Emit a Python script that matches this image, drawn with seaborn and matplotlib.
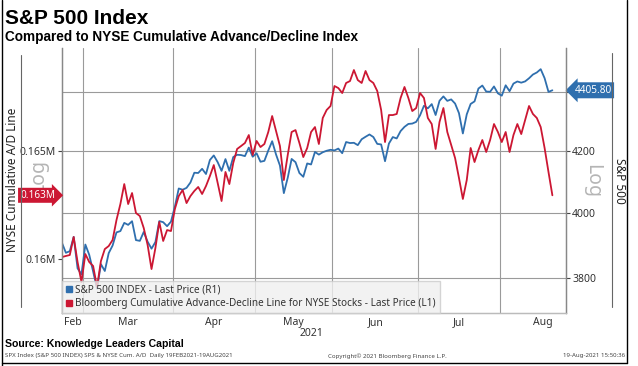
import numpy as np
import pandas as pd
import matplotlib
matplotlib.use("Agg")
import matplotlib.pyplot as plt
import seaborn as sns
from matplotlib.ticker import FixedLocator, NullLocator, FixedFormatter
from matplotlib.lines import Line2D

# ---------------- data ----------------
holidays = ["2021-04-02", "2021-05-31", "2021-07-05"]
dates = pd.bdate_range("2021-02-19", "2021-08-19")
dates = dates[~dates.isin(pd.to_datetime(holidays))]

sp500 = [3906.71, 3876.50, 3881.37, 3925.43, 3829.34, 3811.15,
         3901.82, 3870.29, 3819.72, 3768.47, 3841.94, 3821.35, 3875.44, 3898.81, 3939.34, 3943.34,
         3968.94, 3962.71, 3974.12, 3915.46, 3913.10, 3940.59, 3910.52, 3889.14, 3909.52, 3974.54,
         3971.09, 3958.55, 3972.89,
         4019.87, 4077.91, 4073.94, 4079.95, 4097.17, 4128.80, 4127.99, 4141.59, 4124.66, 4170.42,
         4185.47, 4163.26, 4134.94, 4173.42, 4134.98, 4180.17, 4187.62, 4186.72, 4183.18, 4211.47,
         4181.17,
         4192.66, 4164.66, 4167.59, 4201.62, 4232.60, 4188.43, 4152.10, 4063.04, 4112.50, 4173.85,
         4163.29, 4127.83, 4115.68, 4159.12, 4155.86, 4197.05, 4188.13, 4195.99, 4200.88, 4204.11,
         4202.04, 4208.12, 4192.85, 4229.89, 4226.52, 4227.26, 4219.55, 4239.18, 4247.44, 4255.15,
         4246.59, 4223.70, 4221.86, 4166.45, 4224.79, 4246.44, 4241.84, 4266.49, 4280.70, 4290.61,
         4291.80, 4297.50,
         4319.94, 4352.34, 4343.54, 4358.13, 4320.82, 4369.55, 4384.63, 4369.21, 4374.30, 4360.03,
         4327.16, 4258.49, 4323.06, 4358.69, 4367.48, 4411.79, 4422.30, 4401.46, 4400.64, 4419.15,
         4395.26,
         4387.16, 4423.15, 4402.66, 4429.10, 4436.52, 4432.35, 4436.75, 4447.70, 4460.83, 4468.00,
         4479.71, 4448.08, 4400.27, 4405.80]

nyse_ad = [160090, 160140, 160185, 161020, 159860, 158935, 160230, 159860, 159675, 158705,
           159905, 160460, 160600, 160880, 161805, 162545, 163470, 162545, 163055, 162130,
           161990, 161435, 160650, 159535, 160510, 161715, 160835, 161340, 161295, 162315,
           162915, 163195, 162590, 162915, 163150, 163335, 163010, 163380, 163840, 164350,
           163520, 162685, 164030, 163470, 164445, 165095, 165230, 165370, 165740, 164815,
           165465, 165185, 165325, 165880, 166620, 165925, 165230, 163655, 164815, 165880,
           165970, 165370, 164720, 165140, 165880, 166110, 165325, 166530, 166900, 167085,
           168010, 167915, 167685, 168150, 168240, 168750, 168285, 168150, 168705, 168285,
           168150, 167780, 166900, 165415, 166665, 166665, 166715, 167455, 167965, 167455,
           166850, 166990, 167685, 167455, 166530, 166250, 165095, 166345, 166990, 165880,
           165280, 164675, 163750, 162780, 163655, 165140, 164490, 165045, 165510, 164955,
           165510, 166250, 165880, 165415, 165880, 164955, 165740, 166250, 165785, 166435,
           167085, 166715, 166530, 166110, 165140, 164030, 162950]

month_names = ["Feb", "Mar", "Apr", "May", "Jun", "Jul", "Aug"]
sp_ticks = [3800, 4000, 4200, 4400]
sp_ticklabels = ["3800", "4000", "4200", ""]
ad_ticks = [160000, 165000]
ad_ticklabels = ["0.16M", "0.165M"]
sp_label = "S&P 500 INDEX - Last Price (R1)"
ad_label = "Bloomberg Cumulative Advance-Decline Line for NYSE Stocks - Last Price (L1)"

df = pd.DataFrame({"idx": np.arange(len(dates)), "date": dates,
                   "sp": sp500, "ad": nyse_ad})

# month boundaries / centers in trading-day index
full = pd.bdate_range("2021-02-01", "2021-08-31")
full = full[~full.isin(pd.to_datetime(holidays + ["2021-02-15"]))]
offset = int(np.where(full == dates[0])[0][0])
fidx = np.arange(len(full)) - offset
fm = full.month.values
bounds = [fidx[i] - 0.5 for i in range(1, len(full)) if fm[i] != fm[i - 1]]
XMIN, XMAX = 0, 129.5
starts = [XMIN] + bounds
ends = bounds + [fidx[-1] + 0.5]
centers = [(s + e) / 2 for s, e in zip(starts, ends)]

# ---------------- style ----------------
BLUE = "#2f6fae"
RED = "#cc1733"
GRID = "#9a9a9a"
TXT = "#333333"
BOLDFONT = ["Liberation Sans", "DejaVu Sans"]
sns.set_style("white")
plt.rcParams["font.family"] = ["Noto Sans", "DejaVu Sans"]

fig = plt.figure(figsize=(6.38, 3.66), dpi=100)
W, H = 638, 366
ax = fig.add_axes([62 / W, 1 - 313 / H, 504 / W, 265 / H])
ax2 = ax.twinx()

sns.lineplot(data=df, x="idx", y="sp", ax=ax, color=BLUE, linewidth=1.3)
sns.lineplot(data=df, x="idx", y="ad", ax=ax2, color=RED, linewidth=1.3)

ax.set_xlim(XMIN, XMAX)
ax.set_yscale("log")
ax.set_ylim(3697, 4555)
ax2.set_ylim(157500, 169770)
for a in (ax, ax2):
    a.set_xlabel("")
    a.set_ylabel("")

# right axis (S&P)
ax.yaxis.set_ticks_position("right")
ax.yaxis.set_major_locator(FixedLocator(sp_ticks))
ax.yaxis.set_major_formatter(FixedFormatter(sp_ticklabels))
ax.yaxis.set_minor_locator(NullLocator())
ax.tick_params(axis="y", which="major", direction="out", length=3, width=0.8,
               color="#444444", labelsize=7.5, labelcolor=TXT, pad=1.5)
# left axis (A/D)
ax2.yaxis.set_ticks_position("left")
ax2.yaxis.set_major_locator(FixedLocator(ad_ticks))
ax2.yaxis.set_major_formatter(FixedFormatter(ad_ticklabels))
ax2.yaxis.set_minor_locator(NullLocator())
ax2.tick_params(axis="y", which="major", direction="out", length=3, width=0.8,
                color="#444444", labelsize=7.5, labelcolor=TXT, pad=1.5)

# x axis
ax.set_xticks(bounds)
ax.set_xticklabels([""] * len(bounds))
ax.set_xticks(centers, minor=True)
ax.set_xticklabels(month_names, minor=True)
ax.tick_params(axis="x", which="both", length=0, labelsize=7.5, labelcolor=TXT, pad=3)

ax.grid(True, which="major", axis="both", color=GRID, linewidth=0.8)
ax.set_axisbelow(True)

for a in (ax, ax2):
    a.spines["top"].set_visible(False)
    a.spines["left"].set_color("#888888")
    a.spines["right"].set_color("#888888")
    a.spines["bottom"].set_color("#bbbbbb")
    for s in a.spines.values():
        s.set_linewidth(0.9)

# value tags
ax.annotate(f"{sp500[-1]:.2f}", xy=(1.0, sp500[-1]), xycoords=("axes fraction", "data"),
            xytext=(6, 0), textcoords="offset points", ha="left", va="center",
            color="white", fontsize=7.2,
            bbox=dict(boxstyle="larrow,pad=0.25", fc=BLUE, ec="none"))
ax2.annotate(f"{nyse_ad[-1] / 1e6:.3f}M", xy=(0.0, nyse_ad[-1]), xycoords=("axes fraction", "data"),
             xytext=(-5, 0), textcoords="offset points", ha="right", va="center",
             color="white", fontsize=7.2,
             bbox=dict(boxstyle="rarrow,pad=0.2", fc=RED, ec="none"))

# legend
handles = [Line2D([], [], marker="s", ls="none", color=BLUE, markersize=4.5),
           Line2D([], [], marker="s", ls="none", color=RED, markersize=4.5)]
leg = ax2.legend(handles, [sp_label, ad_label], loc="lower left", bbox_to_anchor=(0, 0),
                 fontsize=7.2, frameon=True, fancybox=False, facecolor="#efefef",
                 edgecolor="#cccccc", framealpha=0.8, borderaxespad=0, handlelength=0.7,
                 handletextpad=0.2, labelspacing=0.25, borderpad=0.4)
for t in leg.get_texts():
    t.set_color(TXT)
leg.set_zorder(10)

# axis titles & decorations
fig.text(13 / W, 1 - 180 / H, "NYSE Cumulative A/D Line", rotation=90, ha="center",
         va="center", fontsize=8.5, color="#222222")
fig.text(38 / W, 1 - 176 / H, "Log", rotation=90, ha="center", va="center",
         fontsize=14, color="#b5b5b5", zorder=-1)
fig.text(592 / W, 1 - 181 / H, "Log", rotation=270, ha="center", va="center",
         fontsize=14, color="#b5b5b5", zorder=-1)
fig.text(619 / W, 1 - 181 / H, "S&P 500", rotation=270, ha="center", va="center",
         fontsize=8.5, color="#222222")
fig.add_artist(Line2D([21 / W, 21 / W], [1 - 55 / H, 1 - 307 / H], color="#666666", lw=0.8))
fig.add_artist(Line2D([612 / W, 612 / W], [1 - 53 / H, 1 - 307 / H], color="#666666", lw=0.8))

fig.text(312 / W, 1 - 334 / H, "2021", ha="center", va="center", fontsize=7.5, color=TXT)

fig.text(5 / W, 1 - 18 / H, "S&P 500 Index", ha="left", va="center", fontsize=15,
         fontweight="bold", color="black", family=BOLDFONT)
fig.text(5 / W, 1 - 37 / H, "Compared to NYSE Cumulative Advance/Decline Index", ha="left",
         va="center", fontsize=9.8, fontweight="bold", color="black", family=BOLDFONT)
fig.text(5 / W, 1 - 344 / H, "Source: Knowledge Leaders Capital", ha="left", va="center",
         fontsize=7.6, fontweight="bold", color="black", family=BOLDFONT)
fig.text(5 / W, 1 - 356 / H, "SPX Index (S&P 500 INDEX) SPS & NYSE Cum. A/D  Daily 19FEB2021-19AUG2021",
         ha="left", va="center", fontsize=4.4, color="#444444")
fig.text(387 / W, 1 - 356 / H, "Copyright\u00a9 2021 Bloomberg Finance L.P.", ha="center",
         va="center", fontsize=4.4, color="#444444")
fig.text(625 / W, 1 - 356 / H, "19-Aug-2021 15:50:36", ha="right", va="center",
         fontsize=4.4, color="#444444")

# outer frame
fig.add_artist(Line2D([1.5 / W, 1.5 / W], [0, 1], color="black", lw=1))
fig.add_artist(Line2D([627 / W, 627 / W], [1 - 363 / H, 1], color="black", lw=1))
fig.add_artist(Line2D([1.5 / W, 627 / W], [1 - 363 / H, 1 - 363 / H], color="black", lw=1))

fig.savefig("out.png", dpi=100)
